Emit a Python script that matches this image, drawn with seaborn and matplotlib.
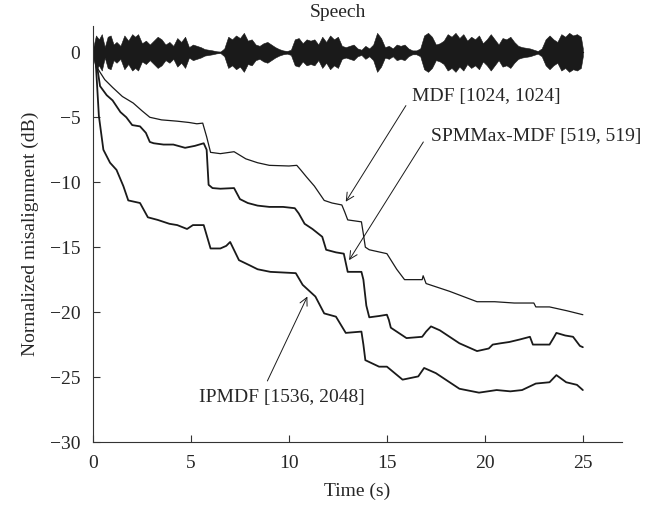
import numpy as np
import pandas as pd
import matplotlib
matplotlib.use('Agg')
import matplotlib.pyplot as plt
import seaborn as sns

# 样式配置
sns.set_style('ticks')
plt.rcParams['font.family'] = ['Liberation Serif', 'DejaVu Serif']
plt.rcParams['xtick.direction'] = 'in'
plt.rcParams['ytick.direction'] = 'in'

# 语音波形包络 (dB 轴上的振幅)
env_t = [0.0, 0.15, 0.3, 0.45, 0.6, 0.75, 0.9, 1.05, 1.2, 1.4, 1.6, 1.8, 2.0, 2.15, 2.3,
         2.5, 2.7, 2.9, 3.1, 3.3, 3.5, 3.7, 3.9, 4.1, 4.3, 4.5, 4.7, 4.9, 5.1, 5.3, 5.5,
         5.7, 5.9, 6.1, 6.3, 6.5, 6.7, 6.9, 7.1, 7.3, 7.5, 7.7, 7.9, 8.1, 8.3, 8.5, 8.7,
         8.9, 9.1, 9.3, 9.5, 9.7, 9.9, 10.1, 10.3, 10.5, 10.7, 10.9, 11.1, 11.3, 11.5,
         11.7, 11.9, 12.1, 12.3, 12.5, 12.7, 12.9, 13.1, 13.3, 13.5, 13.7, 13.9, 14.1,
         14.3, 14.5, 14.7, 14.9, 15.1, 15.3, 15.5, 15.7, 15.9, 16.1, 16.3, 16.5, 16.7,
         16.9, 17.1, 17.3, 17.5, 17.7, 17.9, 18.1, 18.3, 18.5, 18.7, 18.9, 19.1, 19.3,
         19.5, 19.7, 19.9, 20.1, 20.3, 20.5, 20.7, 20.9, 21.1, 21.3, 21.5, 21.7, 21.9,
         22.1, 22.3, 22.5, 22.7, 22.9, 23.1, 23.3, 23.5, 23.7, 23.9, 24.1, 24.3, 24.5,
         24.7, 24.9, 25.0]
env_amp = [0.3, 1.3, 1.0, 1.4, 0.4, 1.2, 1.3, 0.6, 0.8, 0.5, 1.3, 0.9, 1.4, 1.2, 1.4,
           0.7, 0.9, 0.6, 0.9, 1.2, 1.0, 0.6, 0.8, 0.5, 1.1, 0.8, 1.2, 0.4, 0.6, 0.5, 0.4,
           0.25, 0.2, 0.15, 0.08, 0.05, 0.3, 1.2, 1.0, 1.3, 1.1, 1.5, 0.9, 1.0, 0.6, 0.5, 0.7,
           0.8, 0.6, 0.4, 0.25, 0.15, 0.1, 0.2, 1.0, 1.1, 0.7, 1.0, 0.9, 1.0, 0.6,
           1.2, 0.8, 1.3, 1.0, 1.2, 0.5, 0.4, 0.5, 0.6, 0.3, 0.2, 0.5, 0.3,
           0.6, 1.5, 1.1, 0.4, 0.5, 0.3, 0.6, 0.5, 0.6, 0.3, 0.15, 0.15, 0.3,
           1.3, 1.5, 1.2, 0.6, 0.7, 0.9, 1.4, 1.2, 1.5, 1.1, 1.4, 0.9, 1.2,
           1.0, 1.3, 0.7, 1.0, 1.4, 1.0, 0.6, 1.1, 1.0, 1.2, 0.8, 0.5, 0.4,
           0.35, 0.3, 0.2, 0.1, 0.3, 1.0, 1.3, 1.0, 0.8, 1.4, 1.2, 1.5, 1.3,
           1.4, 1.2, 0.3]

# MDF [1024, 1024]
mdf_t = [0.15, 0.26, 0.6, 1.0, 1.5, 2.05, 2.5, 2.9, 3.5, 4.3, 4.9, 5.3, 5.6, 5.8, 6.0,
         6.5, 7.2, 7.8, 8.4, 9.0, 10.0, 10.4, 10.6, 10.9, 11.3, 11.8, 12.2, 12.7, 12.85,
         13.0, 13.7, 13.8, 13.9, 14.1, 15.0, 15.5, 15.9, 16.8, 16.85, 17.0, 18.2, 19.6,
         20.5, 21.5, 22.5, 22.6, 23.3, 24.2, 25.0]
mdf_v = [-0.5, -1.3, -2.1, -2.7, -3.4, -3.9, -4.5, -5.0, -5.2, -5.3, -5.4, -5.5, -5.45,
         -6.5, -7.7, -7.8, -7.65, -8.2, -8.5, -8.7, -8.75, -8.7, -9.05, -9.6, -10.3, -11.4,
         -11.6, -11.75, -12.3, -12.9, -13.05, -14.0, -15.0, -15.2, -15.5, -16.7, -17.5,
         -17.5, -17.2, -17.8, -18.4, -19.2, -19.2, -19.3, -19.3, -19.6, -19.6, -19.9, -20.2]

# SPMMax-MDF [519, 519]
spm_t = [0.15, 0.2, 0.36, 0.7, 1.0, 1.4, 1.7, 2.0, 2.4, 2.7, 2.9, 3.1, 3.6, 4.1, 4.7, 5.2,
         5.65, 5.8, 5.9, 6.1, 6.5, 7.2, 7.5, 7.9, 8.4, 9.0, 9.7, 10.3, 10.5, 10.8, 11.2,
         11.7, 11.9, 12.4, 12.8, 12.9, 13.0, 13.7, 13.8, 13.95, 14.1, 14.6, 15.0, 15.1,
         15.2, 15.6, 16.0, 16.8, 17.0, 17.25, 17.7, 18.2, 18.7, 19.6, 20.2, 20.4, 20.8,
         21.25, 21.8, 22.3, 22.45, 22.6, 23.3, 23.5, 23.65, 24.1, 24.5, 24.85, 25.0]
spm_v = [-0.5, -1.0, -2.6, -3.3, -3.7, -4.6, -5.0, -5.6, -5.7, -6.2, -6.9, -7.0, -7.1,
         -7.1, -7.35, -7.2, -7.0, -7.5, -10.2, -10.45, -10.5, -10.45, -11.3, -11.6, -11.8,
         -11.9, -11.9, -12.0, -12.4, -13.2, -13.6, -14.2, -15.2, -15.4, -15.5, -16.2,
         -16.9, -16.9, -17.5, -19.5, -20.4, -20.3, -20.2, -20.6, -21.2, -21.6, -22.0,
         -21.9, -21.5, -21.1, -21.4, -21.9, -22.4, -23.0, -22.8, -22.5, -22.4, -22.3,
         -22.1, -21.9, -22.5, -22.5, -22.5, -22.0, -21.6, -21.8, -21.9, -22.6, -22.7]

# IPMDF [1536, 2048]
ipm_t = [0.05, 0.15, 0.3, 0.53, 0.87, 1.2, 1.55, 1.8, 2.1, 2.4, 2.8, 3.3, 3.9, 4.3, 4.8,
         5.1, 5.65, 6.0, 6.5, 6.8, 7.0, 7.45, 8.0, 8.4, 9.05, 10.35, 10.7, 11.35, 11.8,
         12.4, 12.9, 13.7, 13.8, 13.9, 14.6, 15.0, 15.4, 15.8, 16.6, 16.9, 17.5, 18.1,
         18.7, 19.7, 20.6, 21.3, 21.9, 22.6, 23.3, 23.65, 24.15, 24.7, 25.0]
ipm_v = [0.0, -1.0, -4.9, -7.5, -8.5, -9.05, -10.3, -11.4, -11.5, -11.6, -12.7, -12.9,
         -13.2, -13.3, -13.6, -13.3, -13.3, -15.1, -15.1, -14.9, -14.6, -16.0, -16.4,
         -16.7, -16.9, -17.0, -17.9, -18.8, -20.1, -20.35, -21.6, -21.5, -22.5, -23.7,
         -24.2, -24.2, -24.7, -25.2, -24.95, -24.3, -24.7, -25.3, -25.9, -26.2, -26.0,
         -26.1, -26.0, -25.5, -25.4, -24.85, -25.4, -25.6, -26.0]

curves = pd.concat([
    pd.DataFrame({'t': mdf_t, 'v': mdf_v, 'algo': 'MDF'}),
    pd.DataFrame({'t': spm_t, 'v': spm_v, 'algo': 'SPMMax'}),
    pd.DataFrame({'t': ipm_t, 'v': ipm_v, 'algo': 'IPMDF'}),
], ignore_index=True)

fig = plt.figure(figsize=(6.7, 5.07), dpi=100)
ax = fig.add_axes([0.1388, 0.1282, 0.7896, 0.8198])

# 语音波形
env_t_arr = np.array(env_t)
env_amp_arr = np.array(env_amp)
ax.fill_between(env_t_arr, -env_amp_arr, env_amp_arr, color='#1a1a1a', lw=0.4,
                edgecolor='#1a1a1a')
ax.plot(env_t_arr, np.zeros_like(env_t_arr), color='#1a1a1a', lw=1.0)

sns.lineplot(data=curves, x='t', y='v', hue='algo', size='algo',
             palette={'MDF': '#1a1a1a', 'SPMMax': '#1a1a1a', 'IPMDF': '#1a1a1a'},
             sizes={'MDF': 0.9, 'SPMMax': 1.3, 'IPMDF': 1.3},
             sort=False, estimator=None, legend=False, ax=ax)

ax.set_xlim(0, 27)
ax.set_ylim(-30, 2)
ax.set_xticks([0, 5, 10, 15, 20, 25])
ax.set_yticks([0, -5, -10, -15, -20, -25, -30])
ax.tick_params(labelsize=14, length=5, width=0.8, color='#333333')
ax.tick_params(axis='x', pad=9)
ax.tick_params(axis='y', pad=9)
ax.set_xlabel('Time (s)', fontsize=14, labelpad=8)
ax.set_ylabel('Normalized misalignment (dB)', fontsize=14, labelpad=8)
for s in ['top', 'right']:
    ax.spines[s].set_visible(False)
for s in ['left', 'bottom']:
    ax.spines[s].set_linewidth(0.8)
    ax.spines[s].set_color('#333333')

ax.text(12.5, 3.1, 'Speech', fontsize=14, ha='center', va='center', clip_on=False)

# 箭头标注
arrow = dict(arrowstyle='->', lw=0.7, color='#1a1a1a', shrinkA=0, shrinkB=0,
             mutation_scale=14)
ax.annotate('', xy=(12.9, -11.5), xytext=(15.97, -4.1), arrowprops=arrow)
ax.annotate('', xy=(13.07, -16.0), xytext=(16.86, -6.9), arrowprops=arrow)
ax.annotate('', xy=(10.94, -18.8), xytext=(8.9, -25.3), arrowprops=arrow)
ax.text(16.3, -3.4, 'MDF [1024, 1024]', fontsize=14, ha='left', va='center')
ax.text(17.26, -6.5, 'SPMMax-MDF [519, 519]', fontsize=14, ha='left', va='center')
ax.text(5.39, -26.6, 'IPMDF [1536, 2048]', fontsize=14, ha='left', va='center')

plt.savefig('out.png', dpi=100)
